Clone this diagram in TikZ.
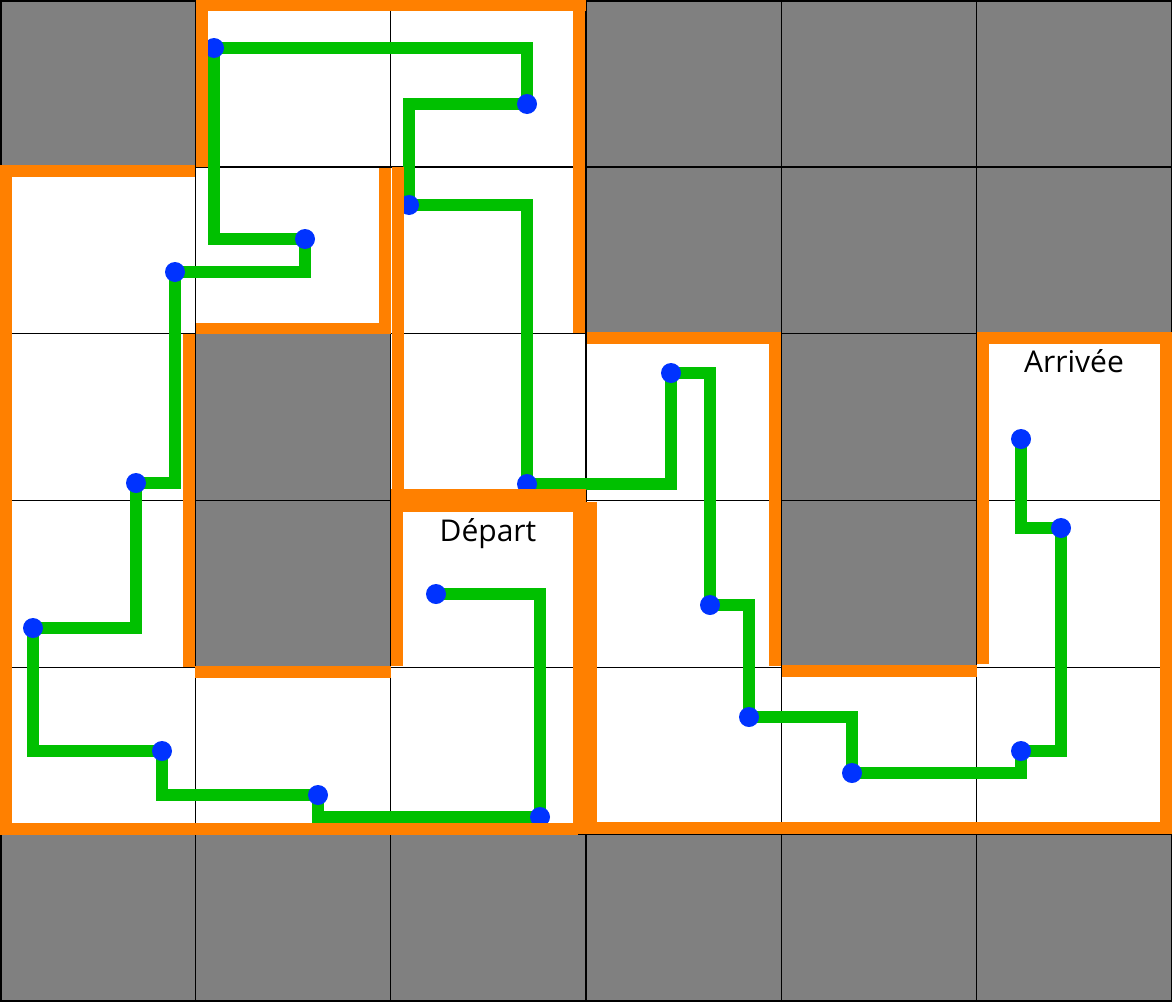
\documentclass[tikz,border=0pt]{standalone}
\usepackage{fontspec}
\setmainfont{Open Sans}
\definecolor{wallorange}{RGB}{255,128,0}
\definecolor{routegreen}{RGB}{0,192,0}
\definecolor{dotblue}{RGB}{0,51,255}
\newcommand{\colw}{195.333}
\newcommand{\rowh}{166.833}
\begin{document}
\begin{tikzpicture}[x=1pt, y=-1pt,
  block/.style={fill=gray},
  gridline/.style={black, line width=1.5pt},
  wall/.style={fill=wallorange},
  route/.style={routegreen, line width=12pt},
  dot/.style={circle, fill=dotblue, inner sep=0pt, minimum size=20pt},
  roomname/.style={font=\fontsize{30}{36}\selectfont, anchor=base, inner sep=0pt}]
\useasboundingbox (0,0) rectangle (1172,1001);
% blocked cells
\foreach \r/\cols in {0/{0,3,4,5}, 1/{3,4,5}, 2/{1,4}, 3/{1,4}, 5/{0,1,2,3,4,5}}
  \foreach \c in \cols \fill[block] (\c*\colw,\r*\rowh) rectangle ++(\colw,\rowh);
\foreach \k in {1,...,5} {
  \draw[gridline] (\k*\colw,0) -- (\k*\colw,1001);
  \draw[gridline] (0,\k*\rowh) -- (1172,\k*\rowh);
}
\draw[gridline, line width=3pt] (0,0) rectangle (1172,1001);
% route from start to finish
\foreach \n/\x/\y in {0/436/594, 1/540/817, 2/318/795, 3/162/751, 4/33/628, 5/136/483,
  6/175/272, 7/305/239, 8/214/48, 9/527/104, 10/409/205, 11/527/484, 12/671/373,
  13/710/605, 14/749/717, 15/852/773, 16/1021/751, 17/1061/528, 18/1021/439}
  \coordinate (p\n) at (\x,\y);
\draw[route] (p0) -| (p1) -| (p2) -| (p3) -| (p4) -| (p5) -| (p6) -| (p7) -| (p8) -| (p9)
  -| (p10) -| (p11) -| (p12) -| (p13) -| (p14) -| (p15) -| (p16) -| (p17) -| (p18);
\foreach \n in {0,...,18} \node[dot] (dot\n) at (p\n) {};
% walls
\foreach \xa/\ya/\xb/\yb in {196/0/586/11, 196/0/208/167, 0/165/195/177, 0/165/12/835,
  183/334/195/667, 196/323/391/334, 379/168/391/334, 392/167/404/500, 391/489/586/512,
  391/489/403/666, 195/666/391/678, 0/823/578/835, 573/502/597/834, 573/0/585/333,
  587/332/781/344, 769/332/781/666, 782/665/977/677, 977/332/989/664, 977/332/1172/344,
  1160/332/1172/834, 597/822/1172/834}
  \fill[wall] (\xa,\ya) rectangle (\xb,\yb);
\node[roomname] (depart) at (488,541) {Départ};
\node[roomname] (arrivee) at (1074,372) {Arrivée};
\end{tikzpicture}
\end{document}
